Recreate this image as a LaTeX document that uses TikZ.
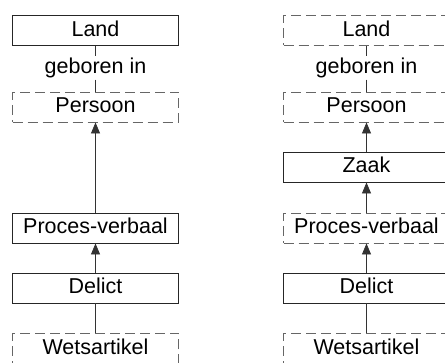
\documentclass[tikz,border=0pt]{standalone}
\usepackage{fontspec}
\setmainfont{Liberation Sans}
\usetikzlibrary{arrows.meta}
\begin{document}
\begin{tikzpicture}[x=1pt,y=-1pt,
  entity/.style={draw=black!85, line width=0.9pt, minimum width=166pt,
    minimum height=30pt, inner sep=0pt, text height=15.5pt, text depth=4pt,
    font=\fontsize{21.5}{25}\selectfont},
  weak/.style={entity, draw=black!60, dash pattern=on 10pt off 5pt},
  rel/.style={inner sep=1.5pt, font=\fontsize{21.5}{25}\selectfont},
  link/.style={draw=black!80, line width=0.8pt},
  isa/.style={link, -{Triangle[length=11pt,width=9pt]}}]
\useasboundingbox (0,0) rectangle (445,363);

% left model
\node[entity] (lland) at (95.5,30.5) {Land};
\node[rel]    (lgeb)  at (95.5,68)   {geboren in};
\node[weak]   (lpers) at (95.5,107)  {Persoon};
\node[entity] (lpv)   at (95.5,228)  {Proces-verbaal};
\node[entity] (ldel)  at (95.5,288)  {Delict};
\node[weak]   (lwet)  at (95.5,348.5){Wetsartikel};

\draw[link] (lland) -- (lgeb);
\draw[link] (lgeb) -- (lpers);
\draw[isa]  (lpv) -- (lpers);
\draw[isa]  (ldel) -- (lpv);
\draw[link] (ldel) -- (lwet);

% right model
\node[weak]   (rland) at (366.5,30.5) {Land};
\node[rel]    (rgeb)  at (366.5,68)   {geboren in};
\node[weak]   (rpers) at (366.5,107)  {Persoon};
\node[entity] (rzaak) at (366.5,167)  {Zaak};
\node[weak]   (rpv)   at (366.5,228)  {Proces-verbaal};
\node[entity] (rdel)  at (366.5,288)  {Delict};
\node[weak]   (rwet)  at (366.5,348.5){Wetsartikel};

\draw[link] (rland) -- (rgeb);
\draw[link] (rgeb) -- (rpers);
\draw[isa]  (rzaak) -- (rpers);
\draw[isa]  (rpv) -- (rzaak);
\draw[isa]  (rdel) -- (rpv);
\draw[link] (rdel) -- (rwet);
\end{tikzpicture}
\end{document}
